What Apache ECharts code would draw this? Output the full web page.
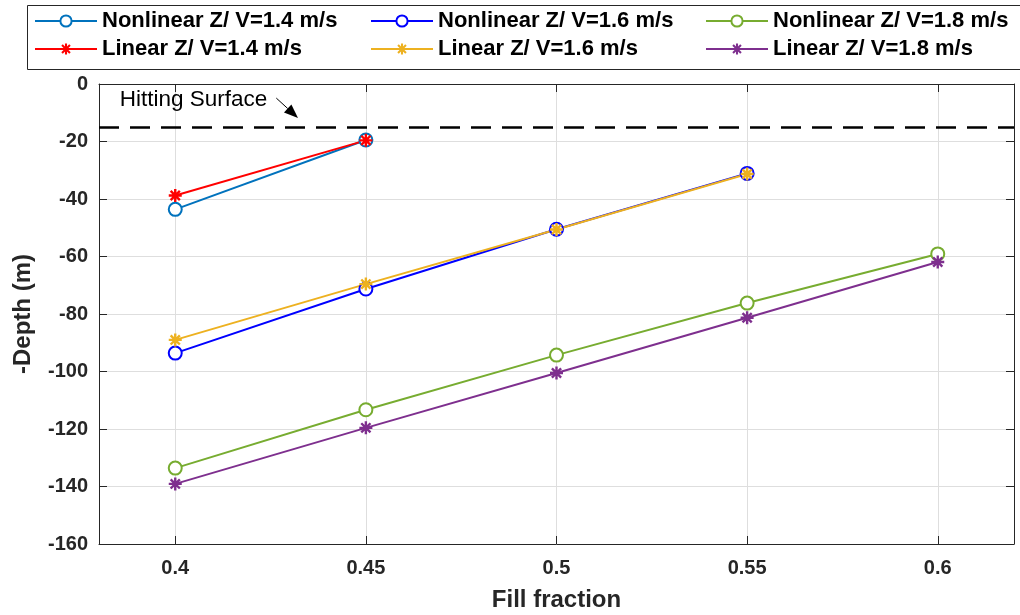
<!DOCTYPE html>
<html>
<head>
<meta charset="utf-8">
<script src="https://cdn.jsdelivr.net/npm/echarts@6/dist/echarts.min.js"></script>
<style>
  html, body { margin: 0; padding: 0; background: #fff; }
  #chart { width: 1020px; height: 615px; }
</style>
</head>
<body>
<div id="chart"></div>
<script>
// Fill fraction values on the x axis
const fillFraction = [0.4, 0.45, 0.5, 0.55, 0.6];
const xTicks = [0.4, 0.45, 0.5, 0.55, 0.6];

// -Depth (m) for each impact velocity, nonlinear vs linear Z
const nonlinear14 = [-43.6, -19.5];
const linear14    = [-38.8, -19.6];
const nonlinear16 = [-93.6, -71.3, -50.5, -31.1];
const linear16    = [-89.0, -69.6, -50.6, -31.3];
const nonlinear18 = [-133.6, -113.3, -94.3, -76.2, -59.1];
const linear18    = [-139.1, -119.6, -100.5, -81.3, -61.9];

const seriesNames = [
  'Nonlinear Z/ V=1.4 m/s', 'Nonlinear Z/ V=1.6 m/s', 'Nonlinear Z/ V=1.8 m/s',
  'Linear Z/ V=1.4 m/s', 'Linear Z/ V=1.6 m/s', 'Linear Z/ V=1.8 m/s'
];

// Depth of the hitting surface
const hittingSurface = -15;
// Annotation arrow: start and tip in data coordinates
const arrowFrom = [0.4265, -4.9];
const arrowTo = [0.4322, -11.8];

const FONT = '"Liberation Sans", Arial, sans-serif';

// Asterisk marker: four bars (vertical, horizontal, two diagonals)
const ASTERISK = 'path://M-1.2 -6.5L1.2 -6.5L1.2 6.5L-1.2 6.5Z M-6.5 -1.2L6.5 -1.2L6.5 1.2L-6.5 1.2Z ' +
  'M-5.45 -3.75L-3.75 -5.45L5.45 3.75L3.75 5.45Z M3.75 -5.45L5.45 -3.75L-3.75 5.45L-5.45 3.75Z';

function pairs(values) {
  return values.map((v, i) => [fillFraction[i], v]);
}

function makeSeries(name, values, color, nonlinear) {
  return {
    name: name,
    type: 'line',
    data: pairs(values),
    xAxisIndex: 0,
    yAxisIndex: 0,
    symbol: nonlinear ? 'emptyCircle' : ASTERISK,
    symbolSize: 13,
    showAllSymbol: true,
    lineStyle: { color: color, width: 2 },
    itemStyle: nonlinear
      ? { color: color, borderColor: color, borderWidth: 2 }
      : { color: color, borderWidth: 0 },
    emphasis: { disabled: true },
    animation: false
  };
}

const colors = ['#0072BD', '#0000FF', '#77AC30', '#FF0000', '#EDB120', '#7E2F8E'];
const values = [nonlinear14, nonlinear16, nonlinear18, linear14, linear16, linear18];

const series = seriesNames.map((n, i) => makeSeries(n, values[i], colors[i], i < 3));
// dashed hitting-surface line
series[0].markLine = {
  silent: true,
  symbol: 'none',
  label: { show: false },
  lineStyle: { color: '#000', type: [20, 11], width: 2.5 },
  data: [{ yAxis: hittingSurface }],
  animation: false
};

const legendCols = [34, 370, 705];
const legendRows = [10, 38];
const legends = seriesNames.map((n, i) => ({
  data: [n],
  left: legendCols[i % 3],
  top: legendRows[Math.floor(i / 3)],
  itemWidth: 62,
  itemHeight: 14,
  itemGap: 0,
  padding: 0,
  selectedMode: false,
  textStyle: { fontFamily: FONT, fontWeight: 'bold', fontSize: 22, color: '#000' }
}));

const axisLineStyle = { color: '#262626', width: 1 };
const tickFont = { fontFamily: FONT, fontWeight: 'bold', fontSize: 20, color: '#262626' };
const nameFont = { fontFamily: FONT, fontWeight: 'bold', fontSize: 24, color: '#262626' };

const chart = echarts.init(document.getElementById('chart'), null, { renderer: 'canvas' });
chart.setOption({
  backgroundColor: '#fff',
  animation: false,
  grid: { left: 99, right: 6, top: 84, bottom: 71, containLabel: false, outerBoundsMode: 'none' },
  legend: legends,
  xAxis: [
    {
      type: 'value', min: 0.38, max: 0.62, position: 'bottom',
      name: 'Fill fraction', nameLocation: 'middle', nameGap: 44, nameMoveOverlap: false,
      nameTextStyle: nameFont,
      axisLine: { show: true, onZero: false, lineStyle: axisLineStyle },
      axisTick: { show: true, inside: true, length: 8, customValues: xTicks, lineStyle: axisLineStyle },
      axisLabel: Object.assign({ customValues: xTicks, margin: 14 }, tickFont),
      splitLine: { show: true, lineStyle: { color: '#dedede', width: 1 } }
    },
    {
      type: 'value', min: 0.38, max: 0.62, position: 'top',
      axisLine: { show: true, onZero: false, lineStyle: axisLineStyle },
      axisTick: { show: true, inside: true, length: 8, customValues: xTicks, lineStyle: axisLineStyle },
      axisLabel: { show: false },
      splitLine: { show: false }
    }
  ],
  yAxis: [
    {
      type: 'value', min: -160, max: 0, interval: 20, position: 'left',
      name: '-Depth (m)', nameLocation: 'middle', nameGap: 64, nameRotate: 90, nameMoveOverlap: false,
      nameTextStyle: nameFont,
      axisLine: { show: true, onZero: false, lineStyle: axisLineStyle },
      axisTick: { show: true, inside: true, length: 8, lineStyle: axisLineStyle },
      axisLabel: Object.assign({ margin: 11 }, tickFont),
      splitLine: { show: true, lineStyle: { color: '#dedede', width: 1 } }
    },
    {
      type: 'value', min: -160, max: 0, interval: 20, position: 'right',
      axisLine: { show: true, onZero: false, lineStyle: axisLineStyle },
      axisTick: { show: true, inside: true, length: 8, lineStyle: axisLineStyle },
      axisLabel: { show: false },
      splitLine: { show: false }
    }
  ],
  series: series
});

// Legend frame and the "Hitting Surface" annotation with its arrow
const p0 = chart.convertToPixel({ xAxisIndex: 0, yAxisIndex: 0 }, arrowFrom);
const p1 = chart.convertToPixel({ xAxisIndex: 0, yAxisIndex: 0 }, arrowTo);
const ang = Math.atan2(p1[1] - p0[1], p1[0] - p0[0]);
const headLen = 14, headHalf = 5.5;
const bx = p1[0] - headLen * Math.cos(ang), by = p1[1] - headLen * Math.sin(ang);
const nx = -Math.sin(ang), ny = Math.cos(ang);

chart.setOption({
  graphic: [
    {
      type: 'rect', left: 25, top: 3, silent: true,
      shape: { width: 993, height: 64 },
      style: { fill: 'none', stroke: '#262626', lineWidth: 1 }
    },
    {
      type: 'text', silent: true,
      x: p0[0] - 9, y: p0[1] + 2,
      style: { text: 'Hitting Surface', fontFamily: FONT, fontSize: 22.5, fill: '#000',
               align: 'right', verticalAlign: 'middle' }
    },
    {
      type: 'line', silent: true,
      shape: { x1: p0[0], y1: p0[1], x2: bx, y2: by },
      style: { stroke: '#000', lineWidth: 1 }
    },
    {
      type: 'polygon', silent: true,
      shape: { points: [[p1[0], p1[1]], [bx + nx * headHalf, by + ny * headHalf], [bx - nx * headHalf, by - ny * headHalf]] },
      style: { fill: '#000' }
    }
  ]
});
</script>
</body>
</html>
